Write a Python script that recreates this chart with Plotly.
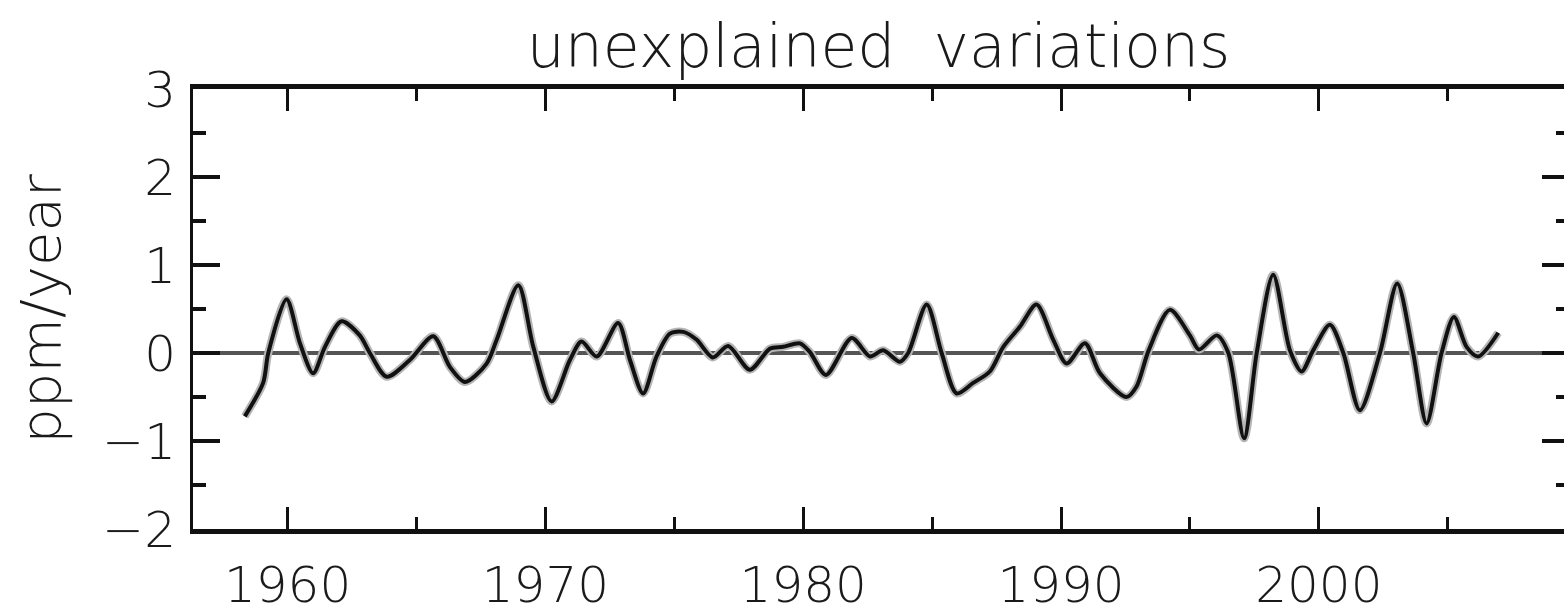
import plotly.graph_objects as go

# --- data ---
years = [1958.34, 1959.05, 1959.25, 1959.96, 1960.48, 1960.99, 1961.45, 1962.09, 1962.80, 1963.19,
         1963.84, 1964.74, 1965.65, 1966.30, 1966.88, 1967.72, 1968.11, 1968.95, 1969.53, 1970.24,
         1970.95, 1971.40, 1971.99, 1972.82, 1973.28, 1973.79, 1974.31, 1974.83, 1975.35, 1975.87,
         1976.49, 1977.09, 1977.93, 1978.71, 1979.22, 1979.87, 1980.26, 1980.88, 1981.88, 1982.59,
         1983.10, 1983.75, 1984.07, 1984.79, 1985.37, 1985.95, 1986.59, 1987.24, 1987.76, 1988.41,
         1989.05, 1989.70, 1990.22, 1990.93, 1991.51, 1992.54, 1992.93, 1993.40, 1994.22, 1995.00,
         1995.35, 1996.04, 1996.49, 1997.10, 1997.59, 1998.23, 1998.88, 1999.33, 1999.78, 2000.43,
         2000.95, 2001.59, 2002.37, 2003.04, 2003.66, 2004.18, 2004.76, 2005.24, 2005.73, 2006.18,
         2006.96]
values = [-0.72, -0.34, 0.00, 0.61, 0.11, -0.23, 0.07, 0.36, 0.20, 0.00,
          -0.27, -0.08, 0.19, -0.16, -0.33, -0.12, 0.15, 0.77, 0.07, -0.55,
          -0.08, 0.13, -0.04, 0.34, -0.08, -0.46, -0.04, 0.22, 0.24, 0.15,
          -0.05, 0.08, -0.19, 0.05, 0.07, 0.11, 0.01, -0.25, 0.17, -0.04,
          0.03, -0.10, 0.00, 0.55, 0.00, -0.46, -0.34, -0.21, 0.07, 0.30,
          0.55, 0.15, -0.12, 0.11, -0.23, -0.50, -0.38, 0.03, 0.49, 0.20,
          0.04, 0.20, 0.00, -0.97, 0.00, 0.89, 0.03, -0.21, 0.03, 0.32,
          0.00, -0.65, 0.00, 0.79, 0.00, -0.80, 0.00, 0.41, 0.07, -0.04,
          0.23]

x_tickvals = [1960, 1970, 1980, 1990, 2000]
x_ticktext = ["1960", "1970", "1980", "1990", "2000"]
y_tickvals = [-2, -1, 0, 1, 2, 3]
y_ticktext = ["\u22122", "\u22121", "0", "1", "2", "3"]

title_text = "unexplained\u00a0\u00a0variations"
y_title = "ppm/year"

FONT = "DejaVu Sans"
W = 300
TXT = "#1a1a1a"

fig = go.Figure()
# soft grey halo under the curve
fig.add_trace(go.Scatter(x=years, y=values, mode="lines",
                         line=dict(color="#b5b5b5", width=8, shape="spline", smoothing=0.8),
                         hoverinfo="skip", showlegend=False))
fig.add_trace(go.Scatter(x=years, y=values, mode="lines",
                         line=dict(color="#111111", width=4, shape="spline", smoothing=0.8),
                         showlegend=False))
# invisible trace to carry the right-hand tick axis
fig.add_trace(go.Scatter(x=years, y=values, mode="lines", yaxis="y2",
                         line=dict(width=0), opacity=0, hoverinfo="skip", showlegend=False))

fig.update_layout(
    width=1564, height=613,
    margin=dict(l=193, r=0, t=89, b=84, autoexpand=False),
    paper_bgcolor="white", plot_bgcolor="white",
    font=dict(family=FONT, color=TXT, weight=W),
    title=dict(text=title_text, x=0.5, xanchor="center", xref="paper",
               y=0.925, yanchor="middle", yref="container",
               font=dict(size=60, family=FONT, color=TXT, weight=W)),
    xaxis=dict(range=[1956.33, 2009.51], tickmode="array", tickvals=x_tickvals, ticktext=x_ticktext,
               ticks="inside", ticklen=22, tickwidth=3, tickcolor="#111111",
               minor=dict(dtick=5, tick0=1960, ticks="inside", ticklen=12, tickwidth=3, tickcolor="#111111"),
               showline=True, linewidth=5, linecolor="#111111", mirror="ticks",
               showgrid=False, zeroline=False, automargin=False,
               tickfont=dict(size=50, family=FONT, color=TXT, weight=W),
               ticklabelstandoff=8),
    yaxis=dict(range=[-2, 3], tickmode="array", tickvals=y_tickvals, ticktext=y_ticktext,
               ticks="inside", ticklen=27, tickwidth=4, tickcolor="#111111",
               minor=dict(dtick=0.5, tick0=0, ticks="inside", ticklen=13, tickwidth=4, tickcolor="#111111"),
               showline=True, linewidth=3, linecolor="#111111",
               showgrid=False, zeroline=True, zerolinecolor="#555555", zerolinewidth=4,
               automargin=False,
               tickfont=dict(size=50, family=FONT, color=TXT, weight=W),
               ticklabelstandoff=4,
               title=dict(text=y_title, font=dict(size=56, family=FONT, color=TXT, weight=W),
                          standoff=24)),
    yaxis2=dict(range=[-2, 3], overlaying="y", side="right", anchor="x",
                tickmode="array", tickvals=y_tickvals, showticklabels=False,
                ticks="inside", ticklen=22, tickwidth=4, tickcolor="#111111",
                minor=dict(dtick=0.5, tick0=0, ticks="inside", ticklen=8, tickwidth=4, tickcolor="#111111"),
                showline=False, showgrid=False, zeroline=False, automargin=False),
)

fig.write_html("out.html")
